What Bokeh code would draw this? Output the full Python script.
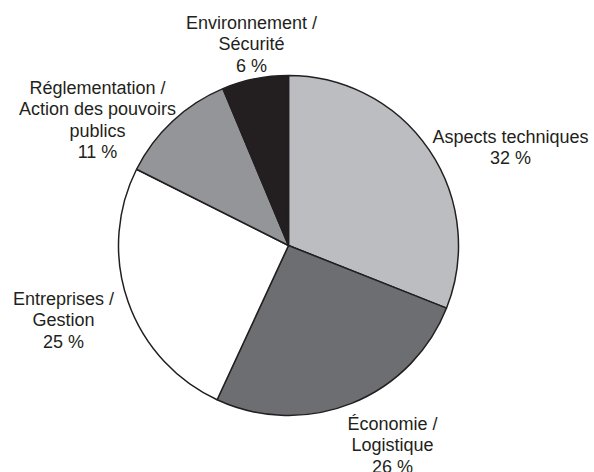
import math
from bokeh.plotting import figure
from bokeh.models import Range1d, ColumnDataSource
from bokeh.core.properties import value
from bokeh.embed import file_html
from bokeh.resources import INLINE

# ---- data ----
categories = ["Aspects techniques", "Économie /\nLogistique", "Entreprises /\nGestion",
              "Réglementation /\nAction des pouvoirs\npublics", "Environnement /\nSécurité"]
# slice sizes as drawn in the picture (%)
slice_shares = [31.0, 25.9, 25.5, 11.3, 6.3]
# percentages printed on the labels
label_shares = [32, 26, 25, 11, 6]
colors = ["#bcbdc0", "#6d6e71", "#ffffff", "#939598", "#231f20"]

# ---- layout ----
W, H = 594, 472
CX, CY, R = 288, H - 245, 170
# label anchor (first-line centre) in screen pixels
label_pos = [(510, 136), (392, 423), (63, 298), (97, 87), (251, 22)]
LINE = 21.5

p = figure(width=W, height=H, output_backend="svg", toolbar_location=None,
           x_range=Range1d(0, W), y_range=Range1d(0, H), min_border=0)
p.axis.visible = False
p.grid.visible = False
p.outline_line_color = None
p.background_fill_color = "white"
p.border_fill_color = "white"

total = sum(slice_shares)
starts, ends = [], []
cum = 0
for s in slice_shares:
    starts.append(math.pi / 2 - 2 * math.pi * cum / total)
    cum += s
    ends.append(math.pi / 2 - 2 * math.pi * cum / total)

src = ColumnDataSource(dict(start=starts, end=ends, color=colors))
p.wedge(x=CX, y=CY, radius=R, start_angle="start", end_angle="end", direction="clock",
        fill_color="color", line_color="#231f20", line_width=1.5, source=src)

xs, ys, texts = [], [], []
for cat, s, (lx, ly) in zip(categories, label_shares, label_pos):
    lines = cat.split("\n") + [f"{s} %"]
    for i, t in enumerate(lines):
        xs.append(lx)
        ys.append(H - (ly + i * LINE))
        texts.append(t)

p.text(x=xs, y=ys, text=texts, text_align="center", text_baseline="middle",
       text_font=value("Liberation Sans"), text_font_size="18px", text_color="#231f20")

open("out.html", "w").write(file_html(p, INLINE))
